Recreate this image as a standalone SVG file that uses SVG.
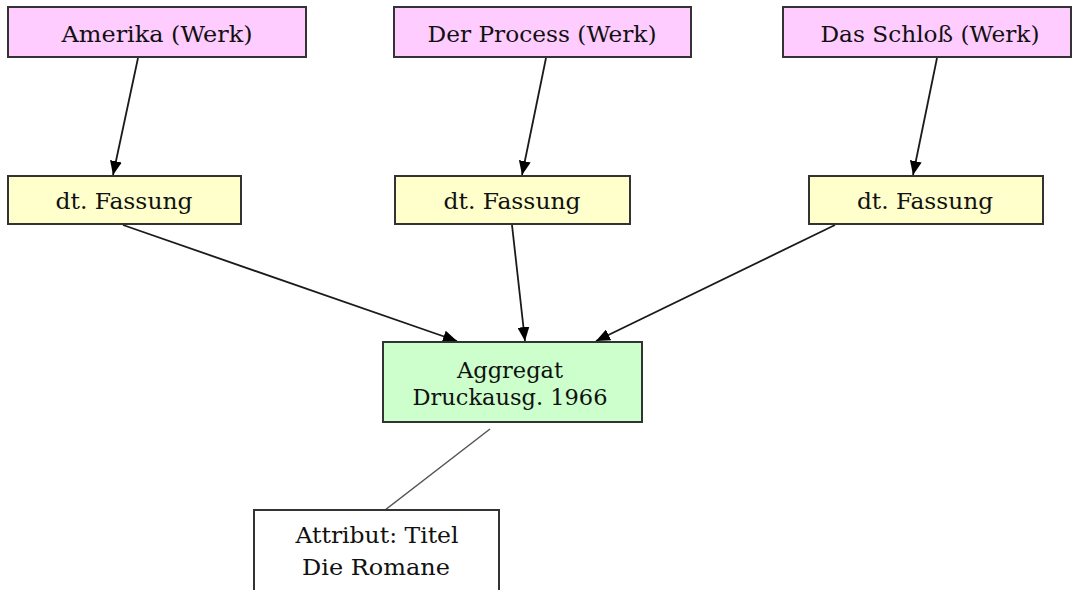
<svg xmlns="http://www.w3.org/2000/svg" width="1073" height="590" viewBox="0 0 1073 590">
<style>
.box{stroke:#333;stroke-width:2}
.werk{fill:#FFCCFF}
.fass{fill:#FFFFCC}
.agg{fill:#CCFFCC}
.attr{fill:#FFFFFF}
text{font-family:"DejaVu Serif","Liberation Serif",serif;font-size:23px;fill:#111;text-anchor:middle}
.edge{stroke:#1a1a1a;stroke-width:1.8;fill:none;marker-end:url(#arr)}
.link{stroke:#555;stroke-width:1.5;fill:none}
</style>
<defs>
<marker id="arr" viewBox="0 0 14 12" refX="14" refY="6" markerWidth="14" markerHeight="12" markerUnits="userSpaceOnUse" orient="auto">
<path d="M0,0 L14,6 L0,12 Z" fill="#000"/>
</marker>
</defs>
<g id="connectors">
<line class="edge" x1="138" y1="58" x2="113" y2="175"/>
<line class="edge" x1="546" y1="58" x2="522" y2="175"/>
<line class="edge" x1="937" y1="58" x2="913" y2="175"/>
<line class="edge" x1="123" y1="225" x2="457" y2="341"/>
<line class="edge" x1="512" y1="225" x2="525" y2="341"/>
<line class="edge" x1="835" y1="225" x2="596" y2="341"/>
<line class="link" x1="490" y1="429" x2="385" y2="510"/>
</g>
<g id="amerika">
<rect class="box werk" x="8" y="7" width="298" height="50"/>
<text x="157" y="42" textLength="191" lengthAdjust="spacingAndGlyphs">Amerika (Werk)</text>
</g>
<g id="process">
<rect class="box werk" x="394" y="7" width="297" height="50"/>
<text x="542" y="42" textLength="229" lengthAdjust="spacingAndGlyphs">Der Process (Werk)</text>
</g>
<g id="schloss">
<rect class="box werk" x="783" y="7" width="288" height="50"/>
<text x="930" y="42" textLength="219" lengthAdjust="spacingAndGlyphs">Das Schloß (Werk)</text>
</g>
<g id="fassung1">
<rect class="box fass" x="8" y="176" width="233" height="48"/>
<text x="124" y="209" textLength="137" lengthAdjust="spacingAndGlyphs">dt. Fassung</text>
</g>
<g id="fassung2">
<rect class="box fass" x="395" y="176" width="235" height="48"/>
<text x="512" y="209" textLength="137" lengthAdjust="spacingAndGlyphs">dt. Fassung</text>
</g>
<g id="fassung3">
<rect class="box fass" x="809" y="176" width="234" height="48"/>
<text x="925" y="209" textLength="136" lengthAdjust="spacingAndGlyphs">dt. Fassung</text>
</g>
<g id="aggregat">
<rect class="box agg" x="383" y="342" width="259" height="80"/>
<text x="510" y="378" textLength="106" lengthAdjust="spacingAndGlyphs">Aggregat</text>
<text x="510" y="405" textLength="195" lengthAdjust="spacingAndGlyphs">Druckausg. 1966</text>
</g>
<g id="attribut">
<rect class="box attr" x="254" y="510" width="245" height="82"/>
<text x="377" y="543" textLength="163" lengthAdjust="spacingAndGlyphs">Attribut: Titel</text>
<text x="376" y="575" textLength="148" lengthAdjust="spacingAndGlyphs">Die Romane</text>
</g>
</svg>
